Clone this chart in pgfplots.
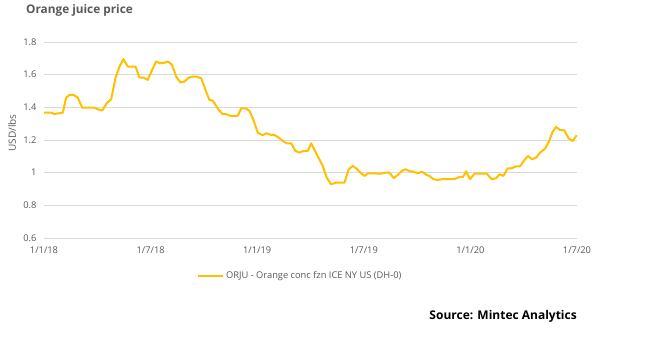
\documentclass[border=0pt]{standalone}
\usepackage{pgfplots}
\pgfplotsset{compat=1.18}
\usepackage{pgfplotstable}
\usepackage{fontspec}
\setmainfont{Open Sans}
\definecolor{gold}{HTML}{FFC000}
\definecolor{txt}{HTML}{595959}
\definecolor{gridc}{HTML}{D9D9D9}
\pgfplotstableread{
m p
0.00 1.367
0.41 1.367
0.59 1.359
0.78 1.363
1.06 1.367
1.25 1.460
1.44 1.476
1.66 1.476
1.90 1.460
2.15 1.398
2.41 1.398
2.84 1.398
3.03 1.388
3.28 1.381
3.53 1.425
3.78 1.449
4.02 1.578
4.25 1.650
4.47 1.695
4.72 1.650
4.91 1.650
5.15 1.650
5.37 1.582
5.60 1.582
5.84 1.568
6.09 1.630
6.31 1.681
6.50 1.671
6.72 1.671
6.97 1.681
7.21 1.660
7.44 1.588
7.68 1.552
7.91 1.558
8.15 1.582
8.37 1.588
8.60 1.588
8.85 1.578
9.09 1.506
9.31 1.445
9.50 1.441
9.78 1.394
10.03 1.360
10.25 1.359
10.48 1.348
10.72 1.348
10.91 1.348
11.10 1.394
11.34 1.394
11.56 1.379
11.79 1.322
12.03 1.245
12.31 1.229
12.50 1.241
12.79 1.231
12.97 1.231
13.21 1.215
13.44 1.194
13.66 1.180
13.91 1.180
14.15 1.133
14.38 1.123
14.60 1.133
14.85 1.133
15.04 1.180
15.35 1.113
15.69 1.041
15.91 0.970
16.16 0.929
16.44 0.939
16.72 0.939
16.91 0.939
17.15 1.020
17.38 1.041
17.57 1.027
17.81 1.000
18.04 0.980
18.26 0.996
18.50 0.996
18.75 0.994
18.98 0.994
19.22 1.000
19.44 1.000
19.69 0.967
19.91 0.986
20.13 1.010
20.34 1.021
20.57 1.010
20.81 1.006
21.04 0.996
21.26 1.006
21.51 0.988
21.69 0.980
21.92 0.960
22.16 0.955
22.41 0.960
22.63 0.960
22.86 0.960
23.10 0.960
23.34 0.972
23.57 0.972
23.76 1.008
23.98 0.960
24.23 0.994
24.45 0.994
24.69 0.994
24.92 0.994
25.20 0.960
25.45 0.966
25.63 0.990
25.86 0.980
26.10 1.027
26.33 1.027
26.57 1.039
26.80 1.039
26.98 1.068
27.23 1.102
27.47 1.082
27.70 1.092
27.92 1.123
28.20 1.147
28.41 1.188
28.63 1.251
28.82 1.280
29.05 1.261
29.29 1.259
29.53 1.210
29.76 1.194
29.98 1.229
}\orju
\begin{document}
\begin{tikzpicture}[x=1pt,y=1pt]
\useasboundingbox (0,0) rectangle (645,357);
\fill[white] (0,0) rectangle (645,357);
\node[anchor=base west, inner sep=0pt, font=\bfseries\fontsize{11.8}{14}\selectfont, text=txt] at (26,343.5) {Orange juice price};
\begin{axis}[
  at={(44pt,119pt)}, anchor=south west,
  scale only axis, width=533pt, height=196pt,
  xmin=0, xmax=30, ymin=0.6, ymax=1.8,
  axis line style={draw=none},
  ytick={0.6,0.8,1,1.2,1.4,1.6,1.8},
  yticklabels={0.6,0.8,1,1.2,1.4,1.6,1.8},
  ymajorgrids, grid style={draw=gridc, line width=0.8pt},
  xtick={0,6,12,18,24,30},
  xticklabels={1/1/18,1/7/18,1/1/19,1/7/19,1/1/20,1/7/20},
  major tick length=0pt,
  tick label style={font=\fontsize{9.3}{11}\selectfont, text=txt},
  yticklabel style={xshift=-4pt},
  xticklabel style={yshift=-5pt},
  ylabel={USD/lbs},
  ylabel style={at={(axis description cs:-0.060,0.536)}, anchor=center, font=\fontsize{10}{12}\selectfont, text=txt},
  legend style={draw=none, fill=none, at={(axis description cs:0.287,-0.194)}, anchor=west, font=\fontsize{9.3}{11}\selectfont, text=txt, inner sep=0pt},
  legend image code/.code={\draw[gold, line width=2pt] (0pt,0pt) -- (25pt,0pt);},
  clip=false,
]
\addplot[gold, line width=2pt, line join=round] table[x=m, y=p] {\orju};
\addlegendentry{ORJU - Orange conc fzn ICE NY US (DH-0)}
\end{axis}
\node[anchor=base east, inner sep=0pt, font=\bfseries\fontsize{12}{14}\selectfont, text=black] at (577,38) {Source: Mintec Analytics};
\end{tikzpicture}
\end{document}
